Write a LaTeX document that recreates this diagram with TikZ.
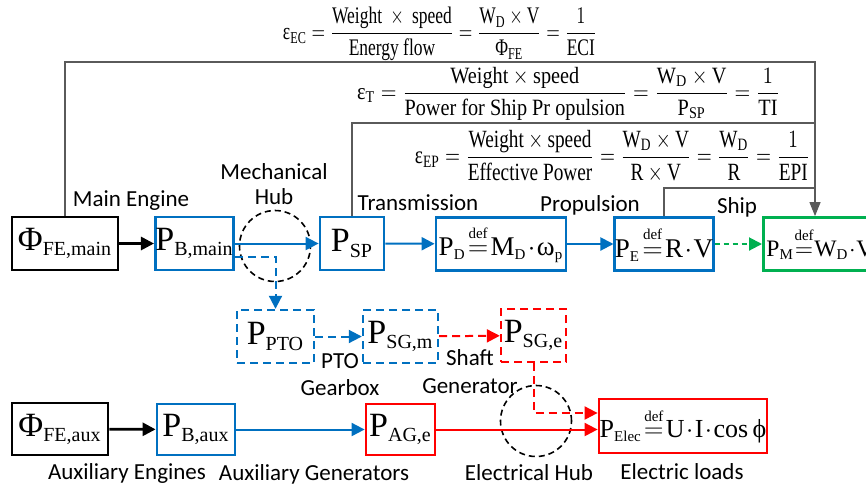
\RequirePackage{fix-cm}
\documentclass[tikz,border=0pt]{standalone}
\usepackage{amsmath}
\usepackage{graphicx}
\usepackage{fontspec}
\setmainfont{Liberation Serif}
\newfontfamily\labfont{Carlito}
\usetikzlibrary{calc,arrows.meta,positioning}
\definecolor{pblue}{RGB}{0,112,192}
\definecolor{pred}{RGB}{255,0,0}
\definecolor{pgreen}{RGB}{0,176,80}
\definecolor{fbgray}{RGB}{90,90,90}
\tikzset{
  box/.style = {draw,line width=1.4pt,inner sep=0pt,minimum height=26.5pt,font=\fontsize{17}{20}\selectfont},
  defbox/.style = {box,font=\fontsize{13.5}{16}\selectfont},
  dbox/.style = {box,line width=1.2pt,dash pattern=on 4pt off 2.5pt},
  flow/.style = {line width=1pt,-{Triangle[length=6.5pt,width=6.5pt]}},
  dflow/.style = {flow,dash pattern=on 4pt off 2.5pt},
  fb/.style = {draw=fbgray,line width=0.6pt},
  hub/.style = {draw,circle,dash pattern=on 3pt off 2pt,line width=0.8pt,minimum size=35.5pt,inner sep=0pt},
  lab/.style = {font=\labfont\fontsize{11.5}{13}\selectfont,inner sep=0pt},
  eq/.style = {inner sep=0pt},
}
\newcommand{\gk}[1]{\text{#1}}
\newcommand{\sbig}[1]{_{\mbox{\fontsize{10}{11}\selectfont #1}}}
\newcommand{\ssml}[1]{_{\mbox{\fontsize{7.5}{8}\selectfont #1}}}
\newcommand{\dfeq}{\mathrel{\overset{\raisebox{1pt}{\fontsize{7.5}{8}\selectfont def}}{=}}}
\newcommand{\tight}{\thickmuskip=1.5mu\medmuskip=1mu}
\begin{document}
\begin{tikzpicture}[x=0.5pt,y=-0.5pt]
  \useasboundingbox (0,0) rectangle (866,489);
  %主機・推進系
  \node[box] (phimain) at (65,243.5) [minimum width=53pt] {$\gk{Φ}\sbig{FE,main}$};
  \node[box,draw=pblue] (pbmain) at (194.5,243.5) [minimum width=38.5pt] {$\mathrm{P}\sbig{B,main}$};
  \node[box,draw=pblue] (psp) at (352,243.5) [minimum width=32pt] {$\mathrm{P}\sbig{SP}$};
  \node[defbox,draw=pblue] (pd) at (501,244) [minimum width=65pt] {$\tight\mathrm{P}\ssml{D}\dfeq\mathrm{M}\ssml{D}\cdot\gk{ω}\ssml{p}$};
  \node[defbox,draw=pblue] (pe) at (664,244) [minimum width=49pt] {$\tight\mathrm{P}\ssml{E}\dfeq\mathrm{R}\cdot\mathrm{V}$};
  \node[defbox,draw=pgreen,anchor=west,font=\fontsize{11.8}{14}\selectfont,inner xsep=1.5pt] (pm) at (762,244) {\makebox[52pt][l]{$\thickmuskip=0.5mu\medmuskip=0.5mu\mathrm{P}\ssml{M}\dfeq\mathrm{W}\ssml{D}\cdot\mathrm{V}$}};
  %PTO・軸発電機
  \node[dbox,draw=pblue] (ppto) at (275.5,336.5) [minimum width=38.5pt] {$\mathrm{P}\sbig{PTO}$};
  \node[dbox,draw=pblue] (psgm) at (400.5,336.5) [minimum width=37.5pt] {$\mathrm{P}\sbig{SG,m}$};
  \node[dbox,draw=pred] (psge) at (533.5,335.5) [minimum width=32.5pt] {$\mathrm{P}\sbig{SG,e}$};
  %補機・電力負荷
  \node[box] (phiaux) at (60,429) [minimum width=48pt,minimum height=26pt] {$\gk{Φ}\sbig{FE,aux}$};
  \node[box,draw=pblue] (pbaux) at (196,429.5) [minimum width=39pt,minimum height=25.5pt] {$\mathrm{P}\sbig{B,aux}$};
  \node[box,draw=pred] (page) at (400.5,429.5) [minimum width=34.5pt,minimum height=25.5pt] {$\mathrm{P}\sbig{AG,e}$};
  \node[defbox,draw=pred,font=\fontsize{13}{15}\selectfont] (pelec) at (683,426) [minimum width=84pt,minimum height=27pt] {$\tight\mathrm{P}\ssml{Elec}\dfeq\mathrm{U}\cdot\mathrm{I}\cdot\cos\gk{ϕ}$};
  %ハブ
  \node[hub] (mhub) at (275,246) {};
  \node[hub] (ehub) at (536,421) {};
  %ラベル
  \node[lab] (lmain) at (131,201) {Main Engine};
  \node[lab] (lmech) at (274,172) {Mechanical};
  \node[lab] (lhub) at (274,197) {Hub};
  \node[lab] (ltrans) at (418,203) {Transmission};
  \node[lab] (lprop) at (590,205) {Propulsion};
  \node[lab] (lship) at (737,207) {Ship};
  \node[lab] (lpto) at (340,361) {PTO};
  \node[lab] (lgear) at (340,388) {Gearbox};
  \node[lab] (lshaft) at (470,358) {Shaft};
  \node[lab] (lgen) at (470,386) {Generator};
  \node[lab] (lauxe) at (127,473) {Auxiliary Engines};
  \node[lab] (lauxg) at (314,474) {Auxiliary Generators};
  \node[lab] (lehub) at (529,473) {Electrical Hub};
  \node[lab] (lload) at (682,472) {Electric loads};
  %効率の式
  \node[eq] (fec) at (440,34) {\resizebox*{157pt}{27pt}{$\gk{ε}_{\mathrm{EC}}=\dfrac{\text{Weight}\ \times\ \text{speed}}{\text{Energy flow}}=\dfrac{\mathrm{W}_{\mathrm{D}}\times\mathrm{V}}{\gk{Φ}_{\mathrm{FE}}}=\dfrac{1}{\mathrm{ECI}}$}};
  \node[eq] (ft) at (568.5,93.5) {\resizebox*{211.5pt}{26.5pt}{$\gk{ε}_{\mathrm{T}}=\dfrac{\text{Weight}\times\text{speed}}{\text{Power for Ship Pr opulsion}}=\dfrac{\mathrm{W}_{\mathrm{D}}\times\mathrm{V}}{\mathrm{P}_{\mathrm{SP}}}=\dfrac{1}{\mathrm{TI}}$}};
  \node[eq] (fep) at (612.5,156.5) {\resizebox*{197.5pt}{26.5pt}{$\gk{ε}_{\mathrm{EP}}=\dfrac{\text{Weight}\times\text{speed}}{\text{Effective Power}}=\dfrac{\mathrm{W}_{\mathrm{D}}\times\mathrm{V}}{\mathrm{R}\times\mathrm{V}}=\dfrac{\mathrm{W}_{\mathrm{D}}}{\mathrm{R}}=\dfrac{1}{\mathrm{EPI}}$}};
  \coordinate (ecR) at (815,62);
  \coordinate (tR) at (815,123);
  \coordinate (epR) at (815,188);
  %指標の線
  \path[fb,-{Triangle[length=7pt,width=5.5pt]}] (phimain.north) |- (ecR) to (ecR |- pm.north);
  \path[fb] (psp.north) |- (tR);
  \path[fb] (pe.north) |- (epR);
  %機械系の流れ
  \path[draw,flow,line width=1.4pt] (phimain) to (pbmain);
  \path[draw,flow,pblue] (pbmain) to (psp);
  \path[draw,flow,pblue] (psp) to (pd);
  \path[draw,flow,pblue] (pd) to (pe);
  \path[draw,flow,pgreen,dash pattern=on 2.5pt off 2pt] (pe) to (pm);
  \coordinate (ptotap) at ($(pbmain.east)+(0,13)$);
  \path[draw,dflow,pblue] (ptotap) -| (ppto.north);
  \path[draw,dflow,pblue] (ppto) to (psgm);
  \path[draw,dflow,pred] (psgm) to (psge);
  \coordinate (sgin) at ($(pelec.west)+(0,-13)$);
  \path[draw,dflow,pred] (psge.south) |- (sgin);
  %電気系の流れ
  \path[draw,flow,line width=1.4pt] (phiaux) to (pbaux);
  \path[draw,flow,pblue] (pbaux) to (page);
  \path[draw,flow,pred] (page.east) to (page.east -| pelec.west);
\end{tikzpicture}
\end{document}
